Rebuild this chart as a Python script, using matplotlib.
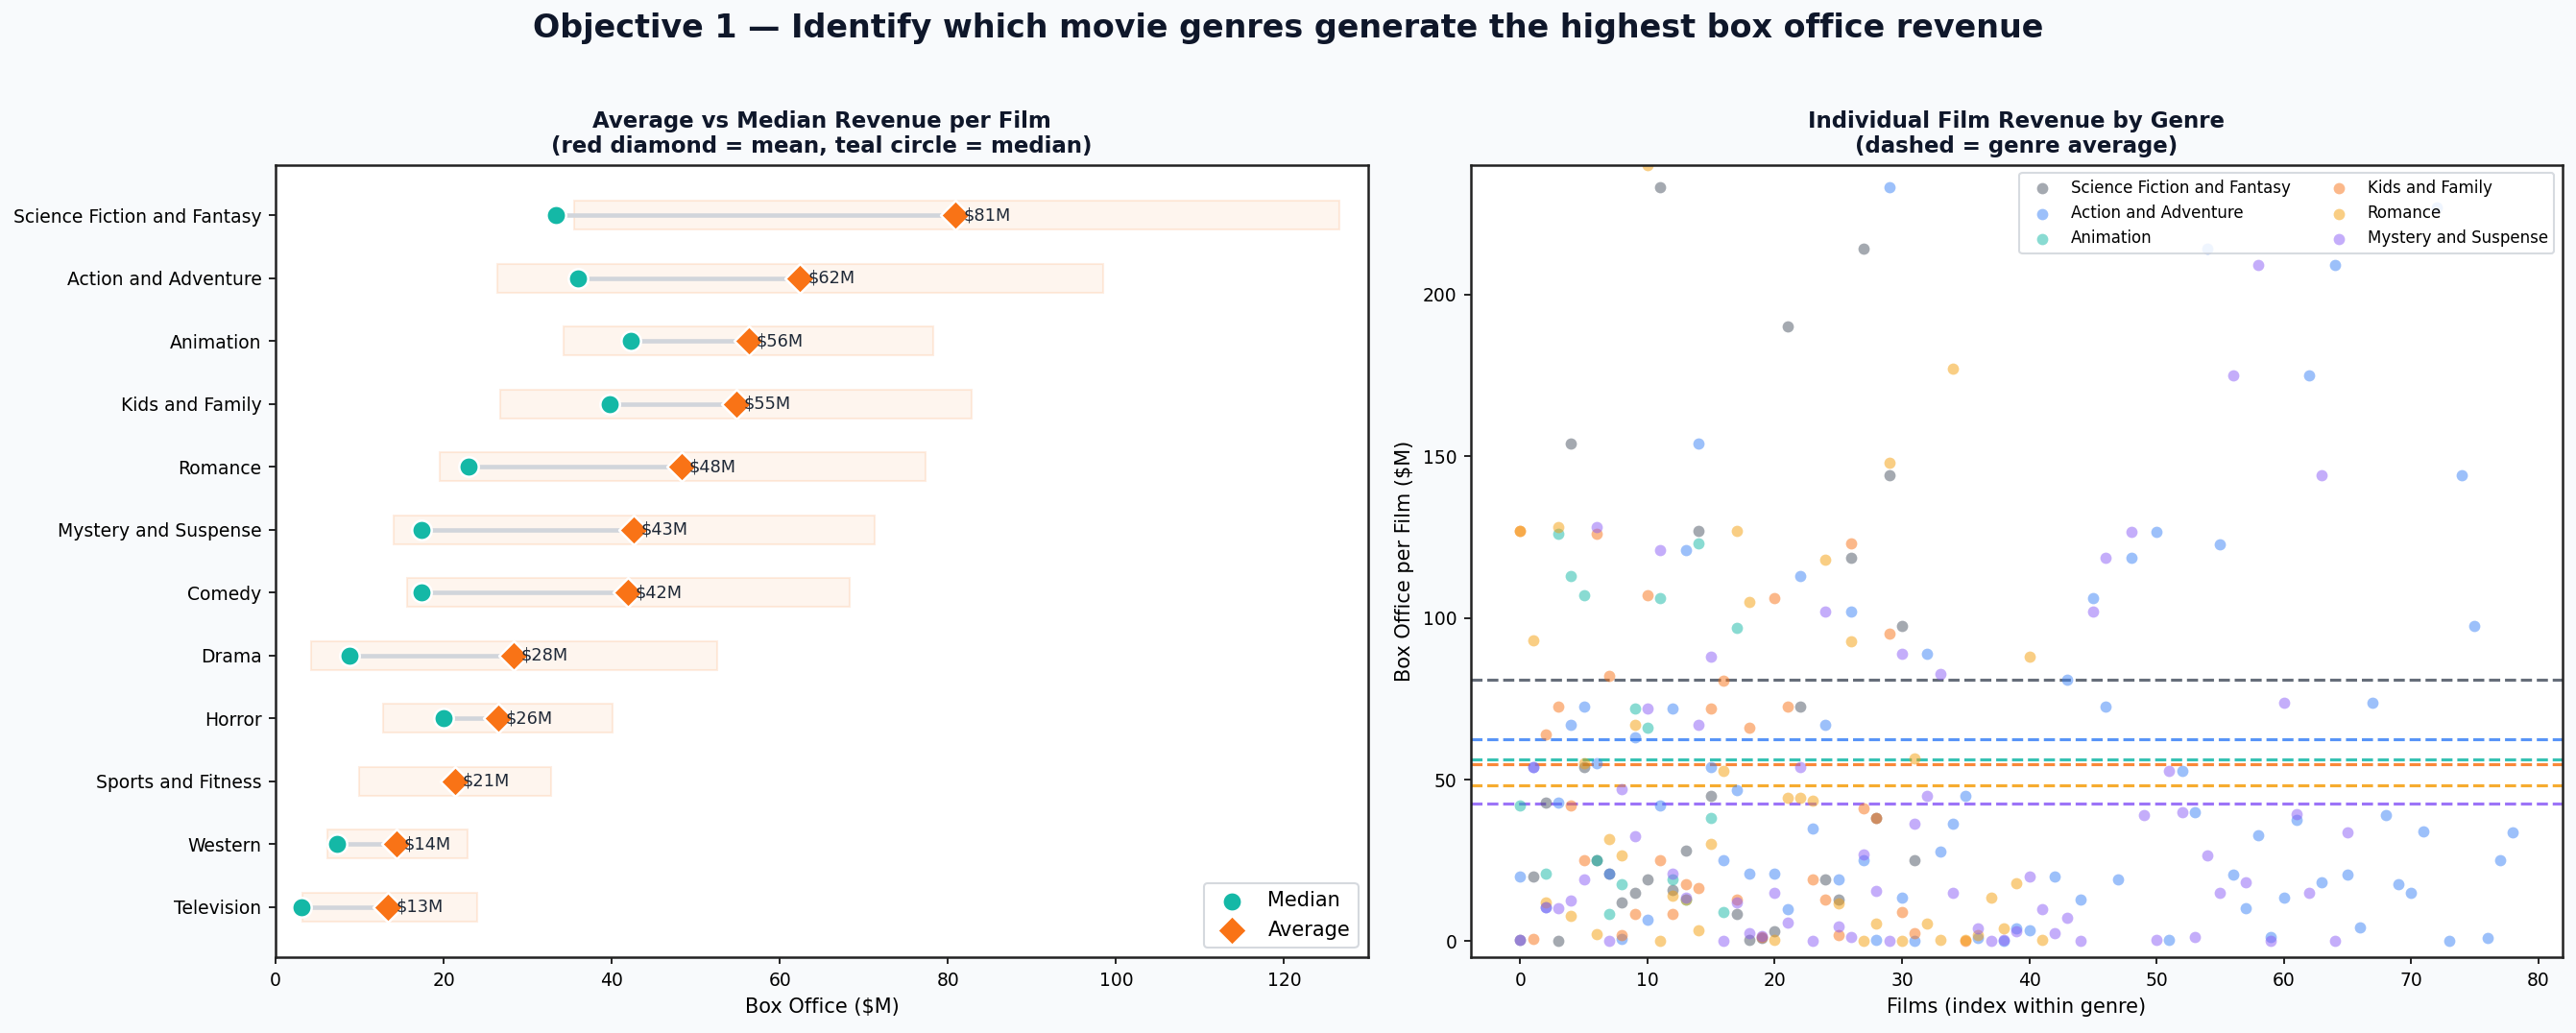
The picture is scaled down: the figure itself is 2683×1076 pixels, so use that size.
import numpy as np
import matplotlib
matplotlib.use('Agg')
import matplotlib.pyplot as plt

# Left panel data
genres = ['Science Fiction and Fantasy', 'Action and Adventure', 'Animation', 'Kids and Family',
          'Romance', 'Mystery and Suspense', 'Comedy', 'Drama', 'Horror', 'Sports and Fitness',
          'Western', 'Television']
mean_rev = [80.9, 62.4, 56.3, 54.8, 48.3, 42.6, 41.9, 28.3, 26.5, 21.3, 14.4, 13.4]
median_rev = [33.3, 36.0, 42.3, 39.8, 22.9, 17.4, 17.4, 8.8, 20.0, 21.3, 7.3, 3.1]
box_lo = [35.5, 26.4, 34.3, 26.7, 19.5, 14.0, 15.6, 4.2, 12.8, 9.9, 6.2, 3.2]
box_hi = [126.6, 98.5, 78.2, 82.8, 77.3, 71.3, 68.3, 52.5, 40.1, 32.8, 22.8, 24.0]

# Right panel data: film index -> box office ($M), per genre
sf_idx = [0, 1, 2, 3, 4, 5, 6, 7, 8, 9, 10, 11, 12, 13, 14, 15, 17, 18, 19, 20, 21, 22, 24, 25,
          26, 27, 28, 29, 30, 31]
sf_val = [0.5, 20, 43, 0, 154, 54, 25, 21, 12, 15, 19, 233, 16, 28, 127, 45, 8.5, 0.3, 1, 3.2,
          190, 72.5, 19, 13, 118.5, 214, 38, 144, 97.5, 25]

aa_idx = [0, 1, 2, 3, 4, 5, 6, 7, 8, 9, 10, 11, 12, 13, 14, 15, 16, 17, 18, 20, 21, 22, 23, 24,
          25, 26, 27, 28, 29, 30, 31, 32, 33, 34, 35, 36, 38, 39, 40, 42, 43, 44, 45, 46, 47, 48,
          50, 51, 52, 53, 54, 55, 56, 57, 58, 59, 60, 61, 62, 63, 64, 65, 66, 67, 68, 69, 70, 71,
          72, 73, 74, 75, 76, 77, 78]
aa_val = [20, 54, 10.5, 43, 67, 72.5, 55, 21, 0.6, 63, 6.6, 42, 72, 121, 154, 54, 25, 46.6, 21,
          21, 10, 113, 35, 67, 19, 102, 25, 0.3, 233, 13.4, 0, 89, 27.7, 36.4, 45, 1, 0, 4, 3.5,
          20, 80.8, 13, 106, 72.5, 19, 118.5, 126.5, 0.3, 52.6, 40, 214, 122.7, 20.5, 10.3, 32.7,
          1.2, 13.4, 37.6, 175, 18.2, 209, 20.5, 4.3, 73.6, 39, 17.8, 15, 34, 227, 0, 144, 97.5,
          0.9, 25, 33.6]

an_idx = [0, 2, 3, 4, 5, 6, 7, 8, 9, 10, 11, 12, 13, 14, 15, 16, 17]
an_val = [42, 21, 126, 113, 107, 25, 8.5, 17.6, 72, 66, 106, 19, 13, 123, 38, 9, 97]

kf_idx = [0, 1, 2, 3, 4, 5, 6, 7, 8, 9, 10, 11, 12, 13, 14, 15, 16, 17, 18, 19, 20, 21, 23, 24,
          25, 26, 27, 28, 29, 30, 31, 35]
kf_val = [127, 0.6, 64, 72.5, 42, 25, 126, 82, 2, 8.6, 107, 25, 8.4, 17.6, 16.5, 72, 80.7, 13,
          66, 1.2, 106, 72.5, 19, 13, 1.8, 123, 41, 38, 95, 9, 2.6, 0]

ro_idx = [0, 1, 2, 3, 4, 5, 6, 7, 8, 9, 10, 11, 12, 13, 14, 15, 16, 17, 18, 20, 21, 22, 23, 24,
          25, 26, 27, 28, 29, 30, 31, 32, 33, 34, 35, 36, 37, 38, 39, 40, 41]
ro_val = [127, 93, 12, 128, 8, 55, 2.3, 31.6, 26.5, 67, 240, 0, 14, 13, 3.4, 30, 52.6, 127, 105,
          0.3, 44.3, 44.3, 43.5, 118, 11.7, 92.7, 0, 5.5, 148, 0, 56.6, 5.5, 0.3, 177, 0.3, 2,
          13.4, 4, 18, 88, 0.3]

ms_idx = [0, 1, 2, 3, 4, 5, 6, 7, 8, 9, 10, 11, 12, 13, 14, 15, 16, 17, 18, 19, 20, 21, 22, 23,
          24, 25, 26, 27, 28, 29, 30, 31, 32, 33, 34, 36, 37, 38, 39, 40, 41, 42, 43, 44, 45, 46,
          48, 49, 50, 51, 52, 53, 54, 55, 56, 57, 58, 59, 60, 61, 62, 63, 64, 65]
ms_val = [0.5, 54, 10.5, 10.3, 12.7, 19, 128, 0, 47, 32.5, 72, 121, 21, 13.5, 67, 88, 0, 12, 2.6,
          1.5, 15, 5.7, 54, 0, 102, 4.7, 1.2, 27, 15.7, 0, 89, 36.4, 45, 82.5, 15, 4, 0, 0.5, 3,
          20, 9.8, 2.6, 7.2, 0, 101.8, 118.5, 126.5, 39, 0.3, 52.6, 40, 1.2, 26.5, 15, 175, 18.2,
          209, 0, 73.6, 39.2, 15, 144, 0, 33.6]

scatter_genres = ['Science Fiction and Fantasy', 'Action and Adventure', 'Animation',
                  'Kids and Family', 'Romance', 'Mystery and Suspense']
scatter_idx = [sf_idx, aa_idx, an_idx, kf_idx, ro_idx, ms_idx]
scatter_val = [sf_val, aa_val, an_val, kf_val, ro_val, ms_val]
scatter_mean = mean_rev[:6]
scatter_colors = ['#4b5563', '#3b82f6', '#14b8a6', '#f97316', '#f59e0b', '#8b5cf6']

TEAL = '#14b8a6'
ORANGE = '#f97316'
TITLE_C = '#0f172a'

fig = plt.figure(figsize=(2683 / 150, 1076 / 150), dpi=150, facecolor='#f8fafc')
ax1 = fig.add_axes([0.107, 0.0731, 0.4241, 0.7673])
ax2 = fig.add_axes([0.5709, 0.0731, 0.4238, 0.7673])

# ---- left: mean vs median
n = len(genres)
y = np.arange(n)[::-1]
lo = np.array(box_lo)
hi = np.array(box_hi)
ax1.barh(y, hi - lo, left=lo, height=0.46, color=(0.976, 0.451, 0.086, 0.07),
         edgecolor=(0.976, 0.451, 0.086, 0.12), linewidth=1, zorder=1)
for yi, md, mn in zip(y, median_rev, mean_rev):
    ax1.plot([md, mn], [yi, yi], color='#d1d5db', lw=2.2, solid_capstyle='butt', zorder=2)
ax1.scatter(median_rev, y, s=95, color=TEAL, edgecolor='white', linewidth=1.2, zorder=3,
            label='Median')
ax1.scatter(mean_rev, y, s=110, marker='D', color=ORANGE, edgecolor='white', linewidth=1.2,
            zorder=4, label='Average')
for yi, mn in zip(y, mean_rev):
    ax1.text(mn + 0.9, yi, f'${mn:.0f}M', va='center', ha='left', fontsize=8.5, color='#1f2937',
             zorder=5)
ax1.set_yticks(y)
ax1.set_yticklabels(genres, fontsize=9)
ax1.set_ylim(-0.8, n - 0.2)
ax1.set_xlim(0, 130)
ax1.tick_params(axis='x', labelsize=9)
ax1.set_xlabel('Box Office ($M)', fontsize=10)
ax1.set_title('Average vs Median Revenue per Film\n(red diamond = mean, teal circle = median)',
              fontsize=11, fontweight='bold', color=TITLE_C)
ax1.legend(loc='lower right', fontsize=10, framealpha=0.9, edgecolor='#d1d5db')

# ---- right: individual films
for g, idx, val, c in zip(scatter_genres, scatter_idx, scatter_val, scatter_colors):
    ax2.scatter(idx, val, s=32, color=c, alpha=0.5, linewidth=0, label=g, zorder=2)
for mn, c in zip(scatter_mean, scatter_colors):
    ax2.axhline(mn, color=c, ls='--', lw=1.5, alpha=0.85, zorder=1)
ax2.set_xlim(-3.9, 81.9)
ax2.set_ylim(-5, 240)
ax2.set_xticks(np.arange(0, 81, 10))
ax2.set_yticks([0, 50, 100, 150, 200])
ax2.tick_params(labelsize=9)
ax2.set_xlabel('Films (index within genre)', fontsize=10)
ax2.set_ylabel('Box Office per Film ($M)', fontsize=10)
ax2.set_title('Individual Film Revenue by Genre\n(dashed = genre average)',
              fontsize=11, fontweight='bold', color=TITLE_C)
ax2.legend(loc='upper right', ncol=2, fontsize=8, framealpha=0.85, edgecolor='#d1d5db')

for ax in (ax1, ax2):
    for sp in ax.spines.values():
        sp.set_color('#222222')
        sp.set_linewidth(1.2)

fig.suptitle('Objective 1 \u2014 Identify which movie genres generate the highest box office revenue',
             fontsize=16, fontweight='bold', color=TITLE_C, y=0.973, va='center')

fig.savefig('out.png', dpi=150, facecolor=fig.get_facecolor())
